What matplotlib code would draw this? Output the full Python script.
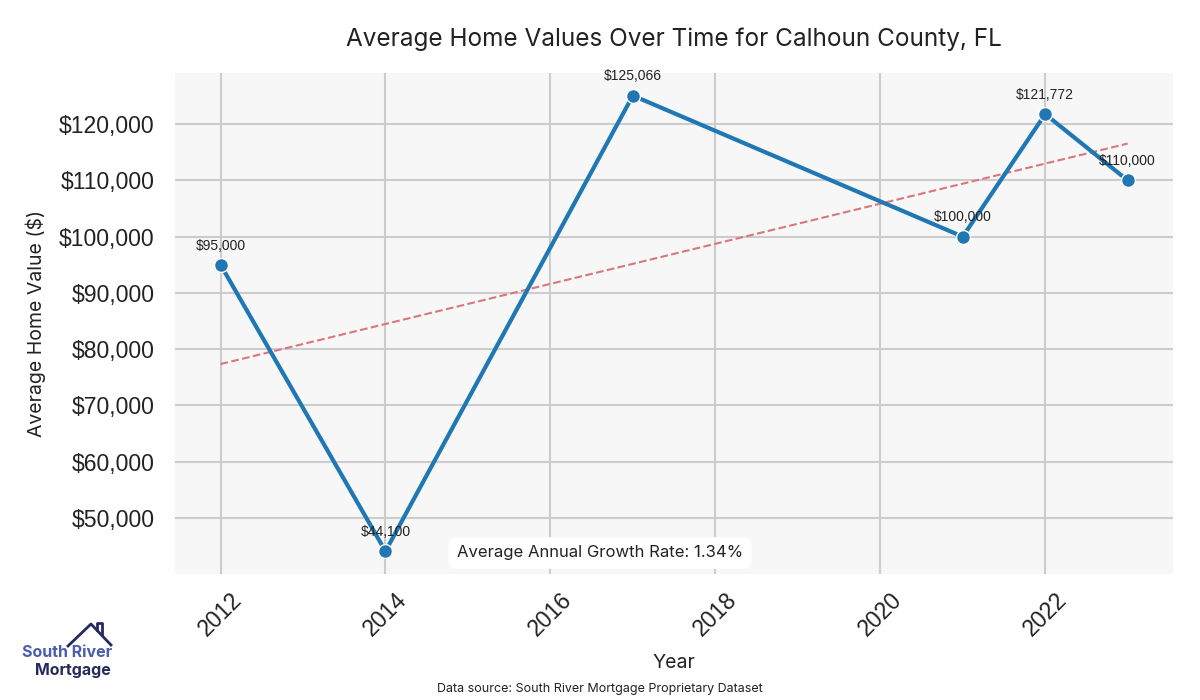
import numpy as np
import matplotlib
matplotlib.use("Agg")
import matplotlib.pyplot as plt
from matplotlib.ticker import FuncFormatter

years = [2012, 2014, 2017, 2021, 2022, 2023]
values = [95000, 44100, 125066, 100000, 121772, 110000]

title_font = ["Inter", "DejaVu Sans"]
num_font = ["Liberation Sans", "DejaVu Sans"]

fig = plt.figure(figsize=(12, 7), dpi=100)
ax = fig.add_axes([0.146, 0.18, 0.8315, 0.716])
ax.set_facecolor("#f7f7f7")
for s in ax.spines.values():
    s.set_visible(False)
ax.grid(True, color="#cccccc", linewidth=1.5)
ax.set_axisbelow(True)
ax.tick_params(length=0, labelsize=16.6, labelcolor="#222222")
ax.tick_params(axis="y", pad=15)
ax.tick_params(axis="x", pad=10)

ax.plot(years, values, color="#1f77b4", linewidth=3, marker="o",
        markersize=10, markeredgecolor="white", markeredgewidth=1, zorder=3)

# trend line
coef = np.polyfit(years, values, 1)
yrs = np.array([years[0], years[-1]])
ax.plot(yrs, np.polyval(coef, yrs), "--", color="#d9777b", linewidth=1.5, zorder=2)

for x, y in zip(years, values):
    ax.annotate(f"${y:,.0f}", (x, y), xytext=(0, 11), textcoords="offset points",
                ha="center", fontsize=10, color="#222222", family=num_font)

ax.yaxis.set_major_formatter(FuncFormatter(lambda v, p: f"${v:,.0f}"))
for lbl in ax.get_xticklabels() + ax.get_yticklabels():
    lbl.set_family(num_font)
plt.setp(ax.get_xticklabels(), rotation=45)

ax.set_title("Average Home Values Over Time for Calhoun County, FL",
             fontsize=17.5, family=title_font, color="#222222", pad=19)
ax.set_xlabel("Year", fontsize=14, family=title_font, color="#222222", labelpad=10)
ax.set_ylabel("Average Home Value ($)", fontsize=14, family=title_font,
              color="#222222", labelpad=9)

cagr = (values[-1] / values[0]) ** (1 / (years[-1] - years[0])) - 1
fig.text(0.5, 0.21, f"Average Annual Growth Rate: {cagr * 100:.2f}%", ha="center",
         va="center", fontsize=12, family=title_font, color="#222222",
         bbox=dict(boxstyle="round,pad=0.5", facecolor="white", edgecolor="none"))

fig.text(0.5, 0.016, "Data source: South River Mortgage Proprietary Dataset",
         ha="center", va="center", fontsize=9, family=title_font, color="#222222")

# logo
fig.text(0.018, 0.068, "South River", ha="left", va="center", fontsize=11.5,
         fontweight="bold", color="#4a5db0", family=title_font)
fig.text(0.061, 0.042, "Mortgage", ha="center", va="center", fontsize=11.5,
         fontweight="bold", color="#262a5e", family=title_font)
fig.add_artist(plt.Line2D([68 / 1200, 91 / 1200, 111 / 1200],
                          [1 - 646 / 700, 1 - 624 / 700, 1 - 645 / 700],
                          color="#262a5e", linewidth=2))
fig.add_artist(plt.Line2D([97 / 1200, 97 / 1200, 102 / 1200, 102 / 1200],
                          [1 - 630 / 700, 1 - 623 / 700, 1 - 623 / 700, 1 - 635 / 700],
                          color="#262a5e", linewidth=2))

fig.savefig("out.png", dpi=100)
